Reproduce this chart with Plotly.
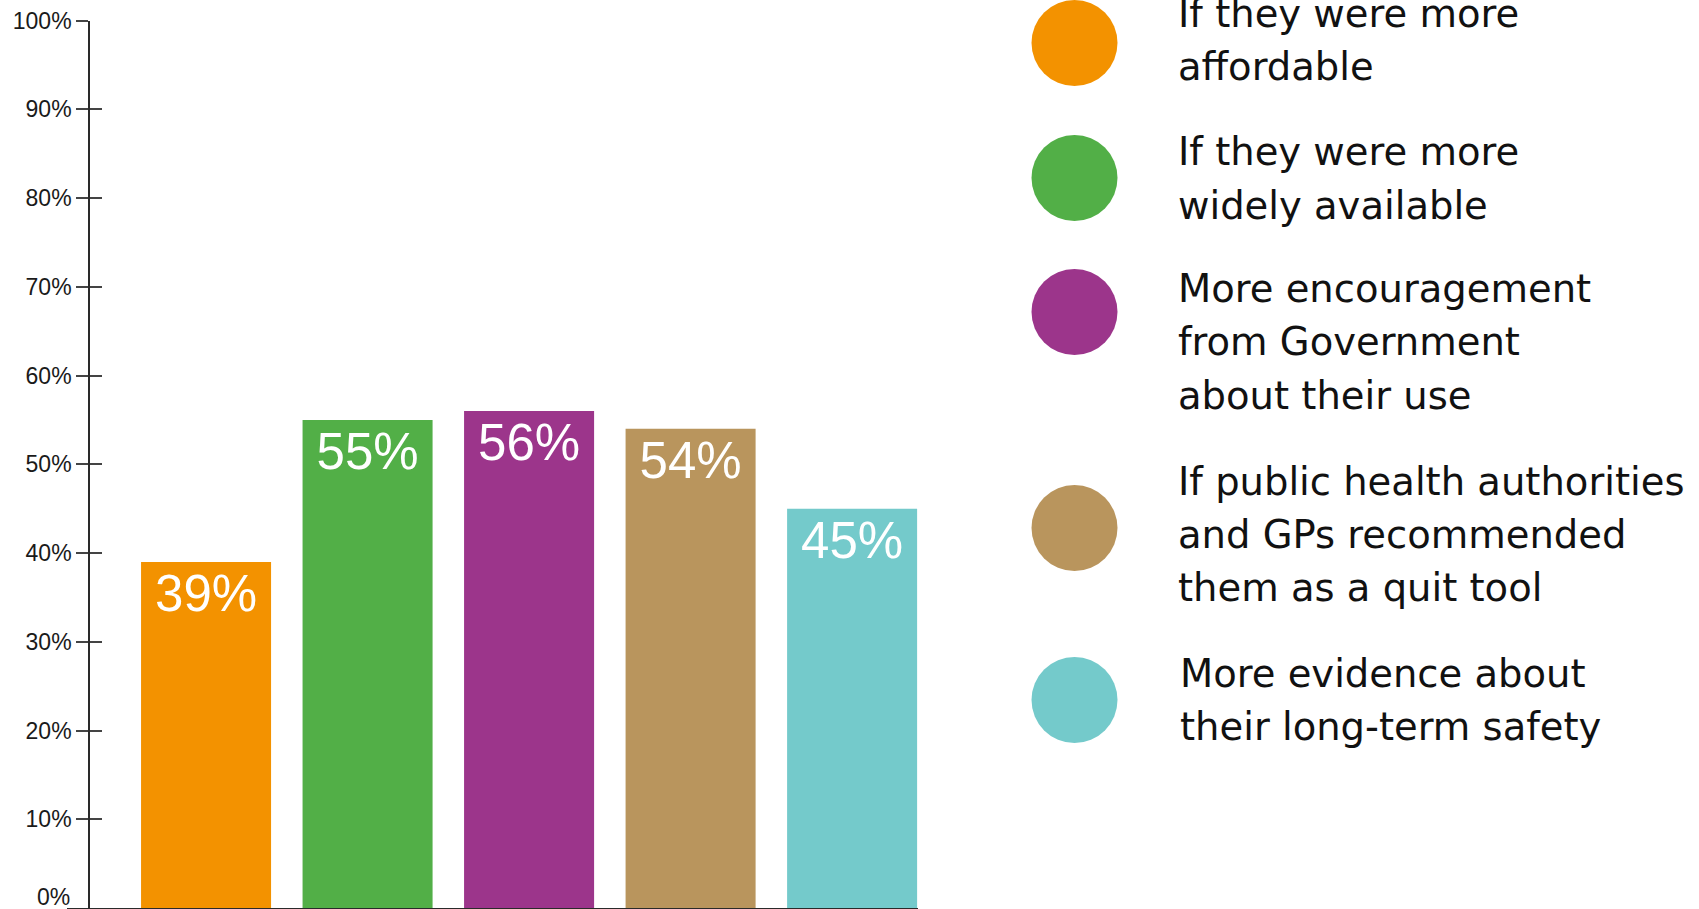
import plotly.graph_objects as go

# --- data -------------------------------------------------------------
categories = [
    "If they were more<br>affordable",
    "If they were more<br>widely available",
    "More encouragement<br>from Government<br>about their use",
    "If public health authorities<br>and GPs recommended<br>them as a quit tool",
    "More evidence about<br>their long-term safety",
]
values = [39, 55, 56, 54, 45]
colors = ["#F39200", "#52AF47", "#9C358B", "#B9955D", "#74CACB"]
y_ticks = [0, 10, 20, 30, 40, 50, 60, 70, 80, 90, 100]
y_tick_labels = [f"{v}%" for v in y_ticks]

# --- layout constants (pixels) -----------------------------------------
W, H = 1699, 909
PLOT_LEFT, PLOT_RIGHT = 67, 918
PLOT_TOP, PLOT_BOTTOM = 20.7, 908
YAXIS_X = 89
LEGEND_DOT_X = 1074.5
LEGEND_DOT_Y = [43, 178, 312, 528, 700]
LEGEND_TEXT_X = [1176, 1176, 1176, 1176, 1178]
LEGEND_FIRST_BASELINE = [27, 165.7, 302.3, 495, 687]
LEGEND_LINE_GAP = 53.3
LEGEND_FONT_SIZE = 38.5

x_idx = list(range(len(categories)))
y_domain = [(H - PLOT_BOTTOM) / H, (H - PLOT_TOP) / H]

fig = go.Figure()

fig.add_trace(go.Bar(
    x=x_idx,
    y=values,
    marker=dict(color=colors, line=dict(width=0)),
    text=[f"{v}%" for v in values],
    textposition="inside",
    insidetextanchor="end",
    textangle=0,
    textfont=dict(family="Liberation Sans, Arial, sans-serif", size=51, color="white"),
    hoverinfo="skip",
    showlegend=False,
))

# invisible companion trace so the inside-tick axis gets drawn
fig.add_trace(go.Scatter(
    x=x_idx, y=values, xaxis="x", yaxis="y3",
    mode="markers", marker=dict(opacity=0),
    hoverinfo="skip", showlegend=False,
))

# legend dots on a full-figure pixel-space subplot
fig.add_trace(go.Scatter(
    x=[LEGEND_DOT_X] * len(categories),
    y=LEGEND_DOT_Y,
    mode="markers",
    marker=dict(size=86, color=colors, line=dict(width=0)),
    xaxis="x2",
    yaxis="y2",
    hoverinfo="skip",
    showlegend=False,
    cliponaxis=False,
))

axis_color = "#2a2a2a"
tick_color = "#444444"
tick_font = dict(family="Liberation Sans, Arial, sans-serif", size=23, color="#1a1a1a")

annotations = []
for i, label in enumerate(categories):
    for j, line in enumerate(label.split("<br>")):
        baseline = LEGEND_FIRST_BASELINE[i] + j * LEGEND_LINE_GAP
        annotations.append(dict(
            x=LEGEND_TEXT_X[i],
            y=baseline - 0.36 * LEGEND_FONT_SIZE,
            xref="x2",
            yref="y2",
            text=line,
            showarrow=False,
            xanchor="left",
            yanchor="middle",
            align="left",
            font=dict(family="DejaVu Sans, sans-serif", size=LEGEND_FONT_SIZE, color="#111111"),
        ))

# the baseline label sits just above the x-axis line
annotations.append(dict(
    x=YAXIS_X / W,
    y=y_ticks[0],
    xref="paper",
    yref="y",
    text=y_tick_labels[0],
    showarrow=False,
    xanchor="right",
    yanchor="bottom",
    xshift=-17,
    yshift=-4,
    font=tick_font,
))

fig.update_layout(
    width=W,
    height=H,
    margin=dict(l=0, r=0, t=0, b=0, autoexpand=False),
    paper_bgcolor="white",
    plot_bgcolor="rgba(0,0,0,0)",
    bargap=0.195,
    annotations=annotations,
    xaxis=dict(
        domain=[PLOT_LEFT / W, PLOT_RIGHT / W],
        range=[-0.861, 4.408],
        showline=True,
        linecolor=axis_color,
        linewidth=1.6,
        showgrid=False,
        zeroline=False,
        showticklabels=False,
        ticks="",
        fixedrange=True,
    ),
    yaxis=dict(
        domain=y_domain,
        range=[0, 100],
        anchor="free",
        position=YAXIS_X / W,
        automargin=False,
        showline=True,
        linecolor=axis_color,
        linewidth=1.6,
        showgrid=False,
        zeroline=False,
        tickmode="array",
        tickvals=y_ticks[1:],
        ticktext=y_tick_labels[1:],
        ticks="outside",
        ticklen=12,
        tickwidth=1.6,
        tickcolor=tick_color,
        tickfont=tick_font,
        fixedrange=True,
    ),
    yaxis3=dict(
        domain=y_domain,
        range=[0, 100],
        overlaying="y",
        anchor="free",
        position=YAXIS_X / W,
        automargin=False,
        showline=False,
        showgrid=False,
        zeroline=False,
        tickmode="array",
        tickvals=y_ticks,
        showticklabels=False,
        ticks="inside",
        ticklen=12,
        tickwidth=1.6,
        tickcolor=tick_color,
        fixedrange=True,
    ),
    xaxis2=dict(
        domain=[0, 1],
        range=[0, W],
        anchor="y2",
        visible=False,
        fixedrange=True,
    ),
    yaxis2=dict(
        domain=[0, 1],
        range=[H, 0],
        anchor="x2",
        visible=False,
        fixedrange=True,
    ),
)

fig.write_html("out.html", config={"displayModeBar": False})
